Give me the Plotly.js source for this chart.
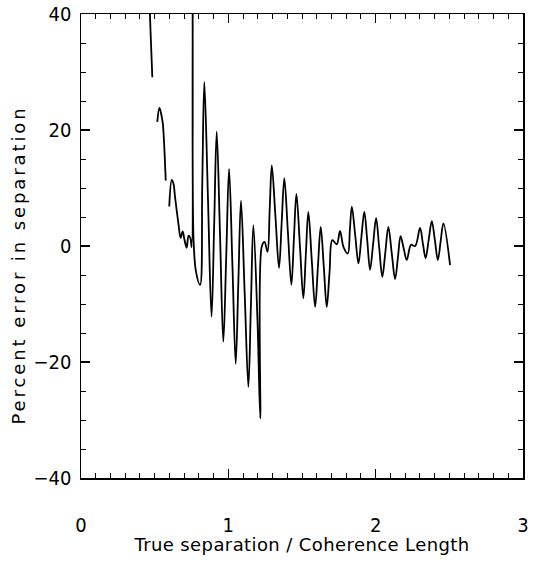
<!DOCTYPE html>
<html><head><meta charset="utf-8">
<script src="https://cdn.plot.ly/plotly-3.0.1.min.js"></script>
<style>html,body{margin:0;padding:0;background:#fff}</style>
</head><body>
<div id="chart" style="width:538px;height:562px"></div>
<script>
// True separation / coherence length (null = break in the curve)
const separationRatio = [
  0.464, 0.468, 0.475, 0.484, null,
  0.518, 0.532, 0.543, 0.555, 0.564, 0.575, null,
  0.599, 0.616, 0.628, 0.638, 0.661, 0.676, 0.690, 0.703, 0.717, 0.730, 0.743, 0.751,
  0.758, 0.764, 0.781, 0.808, 0.823, 0.837, 0.862, 0.886, 0.904, 0.921, 0.944, 0.966, 0.986,
  1.005, 1.028, 1.050, 1.068, 1.086, 1.111, 1.136, 1.153, 1.170, 1.198, 1.217,
  1.227, 1.246, 1.266, 1.281, 1.295, 1.320, 1.344, 1.362, 1.380, 1.404, 1.428, 1.445, 1.462,
  1.486, 1.509, 1.526, 1.543, 1.566, 1.589, 1.608, 1.627, 1.648, 1.668, 1.687,
  1.706, 1.736, 1.758, 1.782, 1.811, 1.825, 1.838, 1.861, 1.883, 1.903, 1.923, 1.943, 1.962,
  1.983, 2.003, 2.024, 2.045, 2.066, 2.086, 2.109, 2.132, 2.151, 2.169, 2.190, 2.211,
  2.240, 2.268, 2.301, 2.320, 2.339, 2.360, 2.381, 2.402, 2.422, 2.441, 2.460, 2.505
];
// Percent error in separation
const percentError = [
  42.0, 39.8, 35.0, 29.1, null,
  21.4, 23.8, 22.9, 21.2, 17.7, 11.3, null,
  6.8, 11.4, 10.7, 8.5, 3.9, 1.4, 2.5, 1.0, -0.3, 1.8, 1.3, -0.2,
  45.0, 1.0, -4.5, -6.7, 10.8, 28.3, 8.0, -12.2, 3.8, 19.7, 1.6, -16.5, -1.6,
  13.3, -3.5, -20.3, -6.2, 7.8, -8.2, -24.3, -10.4, 3.6, -13.0, -29.7,
  -0.1, 0.7, -1.0, 6.5, 13.9, 5.0, -3.8, 4.0, 11.7, 2.5, -6.7, 1.2, 9.0,
  0.0, -9.0, -1.5, 5.9, -2.3, -10.5, -3.6, 3.3, -3.6, -10.5, -4.5,
  1.0, 0.3, 2.6, -0.2, -1.3, 2.8, 6.8, 1.9, -3.0, 1.5, 5.9, 0.9, -4.1,
  0.4, 4.8, -0.3, -5.3, -1.0, 3.3, -1.2, -5.7, -2.0, 1.7, -0.4, -2.4,
  0.2, 0.0, 3.1, 0.5, -2.1, 1.1, 4.3, 1.0, -2.4, 0.8, 3.9, -3.3
];
const xTickValues = [0, 1, 2, 3];
const xTickLabels = ['0', '1', '2', '3'];
const yTickValues = [-40, -20, 0, 20, 40];
const yTickLabels = ['\u221240', '\u221220', '0', '20', '40'];

const tickFont = {family: '"Liberation Sans Narrow", "DejaVu Sans Condensed", sans-serif', size: 20, color: '#000'};
const xTitleFont = {family: '"DejaVu Sans", sans-serif', size: 18, color: '#000'};
const yTitleFont = {family: '"DejaVu Sans", sans-serif', size: 18, color: '#000'};

const trace = {
  x: separationRatio,
  y: percentError,
  type: 'scatter',
  mode: 'lines',
  connectgaps: false,
  line: {color: '#000', width: 1.8, shape: 'spline', smoothing: 1},
  hoverinfo: 'skip'
};

const axisCommon = {
  showline: true, linecolor: '#000', linewidth: 1.5, mirror: 'ticks',
  ticks: 'inside', ticklen: 9, tickwidth: 1.5, tickcolor: '#000',
  showgrid: false, zeroline: false, tickfont: tickFont
};

const layout = {
  width: 538, height: 562,
  margin: {l: 81, r: 15, t: 14, b: 84},
  paper_bgcolor: '#fff', plot_bgcolor: '#fff',
  showlegend: false,
  xaxis: Object.assign({}, axisCommon, {
    range: [0, 3], tickmode: 'array', tickvals: xTickValues, ticktext: xTickLabels,
    minor: {dtick: 0.1, ticklen: 5, tickwidth: 1, ticks: 'inside', tickcolor: '#000'},
    ticklabelstandoff: 28,
    title: {text: 'True separation / Coherence Length', font: xTitleFont, standoff: 1}
  }),
  yaxis: Object.assign({}, axisCommon, {
    range: [-40, 40], tickmode: 'array', tickvals: yTickValues, ticktext: yTickLabels,
    minor: {dtick: 5, ticklen: 5, tickwidth: 1, ticks: 'inside', tickcolor: '#000'},
    ticklabelstandoff: 4,
    title: {text: 'Percent error in separation', font: yTitleFont, standoff: 3}
  })
};

Plotly.newPlot('chart', [trace], layout, {displayModeBar: false, staticPlot: true}).then(function () {
  const xt = document.querySelector('.xtitle');
  if (xt) {
    xt.setAttribute('letter-spacing', '0.4px');
    const trx = xt.getAttribute('transform') || '';
    xt.setAttribute('transform', 'translate(0,-2) ' + trx);
  }
  const yt = document.querySelector('.ytitle');
  if (yt) {
    yt.setAttribute('letter-spacing', '2.9px');
    const tr = yt.getAttribute('transform') || '';
    yt.setAttribute('transform', 'translate(0,19) ' + tr);
  }
});
</script>
</body></html>
